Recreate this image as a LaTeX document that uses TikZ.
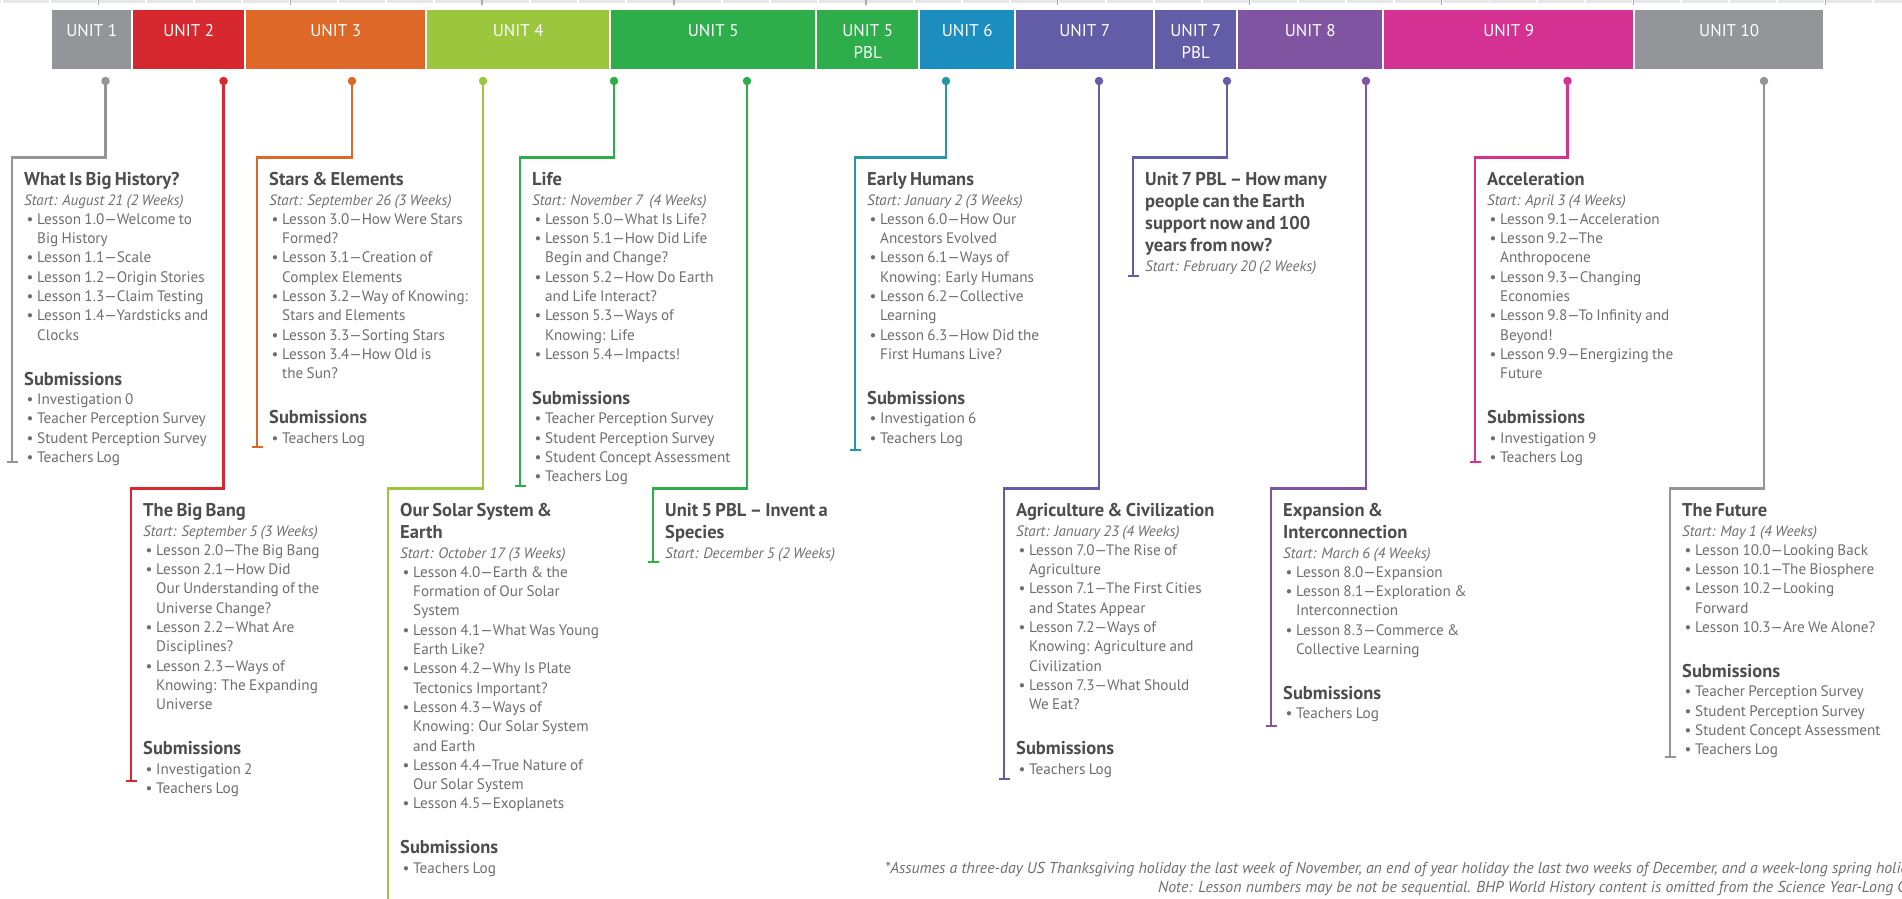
\documentclass[tikz,border=0pt]{standalone}
\usepackage{fontspec}
\setmainfont{PT Sans}
\usetikzlibrary{arrows.meta}

\definecolor{unitgray}{HTML}{939598}
\definecolor{unitred}{HTML}{D7282F}
\definecolor{unitorange}{HTML}{DD6828}
\definecolor{unitlime}{HTML}{9BC63D}
\definecolor{unitgreen}{HTML}{2DAE4B}
\definecolor{unitblue}{HTML}{1C8DBF}
\definecolor{unitteal}{HTML}{2396A8}
\definecolor{unitpurple}{HTML}{635DA8}
\definecolor{unitviolet}{HTML}{7F55A1}
\definecolor{unitmagenta}{HTML}{D43192}
\definecolor{headgray}{HTML}{4D4D4F}
\definecolor{bodygray}{HTML}{6D6E71}
\definecolor{rulegray}{HTML}{E6E7E8}
\definecolor{tickgray}{HTML}{A7A9AC}

\newcommand\nextln{\hfil\break}
\newcommand\unittitle[1]{{\fontsize{18.5}{22}\selectfont\bfseries\noindent\color{headgray}#1\par}}
\newcommand\startline[1]{{\fontsize{15}{19.5}\selectfont\itshape\noindent #1\par}}
\newcommand\bul[1]{{\fontsize{15.2}{19.3}\selectfont\hangindent=13pt\hangafter=1\noindent\makebox[13pt][l]{\hspace{2.5pt}\textbullet}#1\par}}
\newcommand\submissions{\vspace{25pt}{\fontsize{18.5}{20}\selectfont\bfseries\noindent\color{headgray}Submissions\par}}

\begin{document}
\begin{tikzpicture}[x=1pt, y=-1pt,
    unitbox/.style={anchor=north west, minimum height=59pt, inner sep=0pt, fill=#1},
    unitlab/.style={anchor=north, inner sep=0pt, text=white, align=center, font=\fontsize{17}{22}\selectfont},
    dot/.style={circle, fill=#1, inner sep=0pt, minimum size=8.5pt},
    conn/.style={draw=#1, line width=2.2pt, -{Bar[width=11pt]}},
    blk/.style={anchor=base west, text width=280pt, inner sep=0pt, text=bodygray},
    note/.style={anchor=base west, inner sep=0pt, text=bodygray, font=\fontsize{15.8}{17}\selectfont\itshape}]
    \useasboundingbox (0,0) rectangle (1902,898);
    \clip (0,0) rectangle (1902,898);

    % ruler along the top edge
    \foreach \m in {-1,...,39} \fill[rulegray] ({3.4+\m*47.97},0) rectangle ++(46,2.5);
    \foreach \n in {0,...,9} \draw[tickgray, line width=1.3pt] ({98.3+\n*191.9},0) -- ++(0,5);

    % unit bar
    \node[unitbox=unitgray, minimum width=79pt] (u1) at (52,10) {};
    \node[unitbox=unitred, minimum width=111pt] (u2) at (133,10) {};
    \node[unitbox=unitorange, minimum width=179pt] (u3) at (246,10) {};
    \node[unitbox=unitlime, minimum width=182pt] (u4) at (427,10) {};
    \node[unitbox=unitgreen, minimum width=204pt] (u5) at (611,10) {};
    \node[unitbox=unitgreen, minimum width=101pt] (u5p) at (817,10) {};
    \node[unitbox=unitblue, minimum width=94pt] (u6) at (920,10) {};
    \node[unitbox=unitpurple, minimum width=137pt] (u7) at (1016,10) {};
    \node[unitbox=unitpurple, minimum width=81pt] (u7p) at (1155,10) {};
    \node[unitbox=unitviolet, minimum width=144pt] (u8) at (1238,10) {};
    \node[unitbox=unitmagenta, minimum width=249pt] (u9) at (1384,10) {};
    \node[unitbox=unitgray, minimum width=188pt] (u10) at (1635,10) {};
    \node[unitlab] (l1) at ([yshift=-14pt]u1.north) {UNIT 1};
    \node[unitlab] (l2) at ([yshift=-14pt]u2.north) {UNIT 2};
    \node[unitlab] (l3) at ([yshift=-14pt]u3.north) {UNIT 3};
    \node[unitlab] (l4) at ([yshift=-14pt]u4.north) {UNIT 4};
    \node[unitlab] (l5) at ([yshift=-14pt]u5.north) {UNIT 5};
    \node[unitlab] (l5p) at ([yshift=-14pt]u5p.north) {UNIT 5\\PBL};
    \node[unitlab] (l6) at ([yshift=-14pt]u6.north) {UNIT 6};
    \node[unitlab] (l7) at ([yshift=-14pt]u7.north) {UNIT 7};
    \node[unitlab] (l7p) at ([yshift=-14pt]u7p.north) {UNIT 7\\PBL};
    \node[unitlab] (l8) at ([yshift=-14pt]u8.north) {UNIT 8};
    \node[unitlab] (l9) at ([yshift=-14pt]u9.north) {UNIT 9};
    \node[unitlab] (l10) at ([yshift=-14pt]u10.north) {UNIT 10};

    % start dots
    \node[dot=unitgray] (d1) at (105.5,81) {};
    \node[dot=unitred] (d2) at (223.5,81) {};
    \node[dot=unitorange] (d3) at (352,81) {};
    \node[dot=unitlime] (d4) at (483,81) {};
    \node[dot=unitgreen] (d5) at (614,81) {};
    \node[dot=unitgreen] (d5p) at (747,81) {};
    \node[dot=unitteal] (d6) at (946,81) {};
    \node[dot=unitpurple] (d7) at (1099,81) {};
    \node[dot=unitpurple] (d7p) at (1227,81) {};
    \node[dot=unitviolet] (d8) at (1366,81) {};
    \node[dot=unitmagenta] (d9) at (1567.5,81) {};
    \node[dot=unitgray] (d10) at (1764,81) {};

    % bends and ends of the leader lines
    \coordinate (k1) at (12,157.5);    \coordinate (e1) at (12,463);
    \coordinate (k2) at (131,488.5);   \coordinate (e2) at (131,782);
    \coordinate (k3) at (257,157.5);   \coordinate (e3) at (257,448);
    \coordinate (k4) at (388,488.5);   \coordinate (e4) at (388,912);
    \coordinate (k5) at (520,157.5);   \coordinate (e5) at (520,487);
    \coordinate (k5p) at (653,488.5);  \coordinate (e5p) at (653,563);
    \coordinate (k6) at (855,157.5);   \coordinate (e6) at (855,451);
    \coordinate (k7) at (1004,488.5);  \coordinate (e7) at (1004,780);
    \coordinate (k7p) at (1133,157.5); \coordinate (e7p) at (1133,277);
    \coordinate (k8) at (1271,488.5);  \coordinate (e8) at (1271,727);
    \coordinate (k9) at (1475,157.5);  \coordinate (e9) at (1475,463);
    \coordinate (k10) at (1670,488.5); \coordinate (e10) at (1670,758);

    \draw[conn=unitgray] (d1) |- (k1) -- (e1);
    \draw[conn=unitred] (d2) |- (k2) -- (e2);
    \draw[conn=unitorange] (d3) |- (k3) -- (e3);
    \draw[conn=unitlime] (d4) |- (k4) -- (e4);
    \draw[conn=unitgreen] (d5) |- (k5) -- (e5);
    \draw[conn=unitgreen] (d5p) |- (k5p) -- (e5p);
    \draw[conn=unitteal] (d6) |- (k6) -- (e6);
    \draw[conn=unitpurple] (d7) |- (k7) -- (e7);
    \draw[conn=unitpurple] (d7p) |- (k7p) -- (e7p);
    \draw[conn=unitviolet] (d8) |- (k8) -- (e8);
    \draw[conn=unitmagenta] (d9) |- (k9) -- (e9);
    \draw[conn=unitgray] (d10) |- (k10) -- (e10);

    % unit texts
    \node[blk] (t1) at (24,185.5) {\unittitle{What Is Big History?}
        \startline{Start: August 21 (2 Weeks)}
        \bul{Lesson 1.0—Welcome to\nextln Big History}
        \bul{Lesson 1.1—Scale}
        \bul{Lesson 1.2—Origin Stories}
        \bul{Lesson 1.3—Claim Testing}
        \bul{Lesson 1.4—Yardsticks and\nextln Clocks}
        \submissions
        \bul{Investigation 0}
        \bul{Teacher Perception Survey}
        \bul{Student Perception Survey}
        \bul{Teachers Log}};
    \node[blk] (t2) at (143,516.5) {\unittitle{The Big Bang}
        \startline{Start: September 5 (3 Weeks)}
        \bul{Lesson 2.0—The Big Bang}
        \bul{Lesson 2.1—How Did\nextln Our Understanding of the\nextln Universe Change?}
        \bul{Lesson 2.2—What Are\nextln Disciplines?}
        \bul{Lesson 2.3—Ways of\nextln Knowing: The Expanding\nextln Universe}
        \submissions
        \bul{Investigation 2}
        \bul{Teachers Log}};
    \node[blk] (t3) at (269,185.5) {\unittitle{Stars \& Elements}
        \startline{Start: September 26 (3 Weeks)}
        \bul{Lesson 3.0—How Were Stars\nextln Formed?}
        \bul{Lesson 3.1—Creation of\nextln Complex Elements}
        \bul{Lesson 3.2—Way of Knowing:\nextln Stars and Elements}
        \bul{Lesson 3.3—Sorting Stars}
        \bul{Lesson 3.4—How Old is\nextln the Sun?}
        \submissions
        \bul{Teachers Log}};
    \node[blk] (t4) at (400,516.5) {\unittitle{Our Solar System \&\nextln Earth}
        \startline{Start: October 17 (3 Weeks)}
        \bul{Lesson 4.0—Earth \& the\nextln Formation of Our Solar\nextln System}
        \bul{Lesson 4.1—What Was Young\nextln Earth Like?}
        \bul{Lesson 4.2—Why Is Plate\nextln Tectonics Important?}
        \bul{Lesson 4.3—Ways of\nextln Knowing: Our Solar System\nextln and Earth}
        \bul{Lesson 4.4—True Nature of\nextln Our Solar System}
        \bul{Lesson 4.5—Exoplanets}
        \submissions
        \bul{Teachers Log}};
    \node[blk] (t5) at (532,185.5) {\unittitle{Life}
        \startline{Start: November 7\ \ (4 Weeks)}
        \bul{Lesson 5.0—What Is Life?}
        \bul{Lesson 5.1—How Did Life\nextln Begin and Change?}
        \bul{Lesson 5.2—How Do Earth\nextln and Life Interact?}
        \bul{Lesson 5.3—Ways of\nextln Knowing: Life}
        \bul{Lesson 5.4—Impacts!}
        \submissions
        \bul{Teacher Perception Survey}
        \bul{Student Perception Survey}
        \bul{Student Concept Assessment}
        \bul{Teachers Log}};
    \node[blk] (t5p) at (665,516.5) {\unittitle{Unit 5 PBL – Invent a\nextln Species}
        \startline{Start: December 5 (2 Weeks)}};
    \node[blk] (t6) at (867,185.5) {\unittitle{Early Humans}
        \startline{Start: January 2 (3 Weeks)}
        \bul{Lesson 6.0—How Our\nextln Ancestors Evolved}
        \bul{Lesson 6.1—Ways of\nextln Knowing: Early Humans}
        \bul{Lesson 6.2—Collective\nextln Learning}
        \bul{Lesson 6.3—How Did the\nextln First Humans Live?}
        \submissions
        \bul{Investigation 6}
        \bul{Teachers Log}};
    \node[blk] (t7) at (1016,516.5) {\unittitle{Agriculture \& Civilization}
        \startline{Start: January 23 (4 Weeks)}
        \bul{Lesson 7.0—The Rise of\nextln Agriculture}
        \bul{Lesson 7.1—The First Cities\nextln and States Appear}
        \bul{Lesson 7.2—Ways of\nextln Knowing: Agriculture and\nextln Civilization}
        \bul{Lesson 7.3—What Should\nextln We Eat?}
        \submissions
        \bul{Teachers Log}};
    \node[blk] (t7p) at (1145,185.5) {\unittitle{Unit 7 PBL – How many\nextln people can the Earth\nextln support now and 100\nextln years from now?}
        \startline{Start: February 20 (2 Weeks)}};
    \node[blk] (t8) at (1283,516.5) {\unittitle{Expansion \&\nextln Interconnection}
        \startline{Start: March 6 (4 Weeks)}
        \bul{Lesson 8.0—Expansion}
        \bul{Lesson 8.1—Exploration \&\nextln Interconnection}
        \bul{Lesson 8.3—Commerce \&\nextln Collective Learning}
        \submissions
        \bul{Teachers Log}};
    \node[blk] (t9) at (1487,185.5) {\unittitle{Acceleration}
        \startline{Start: April 3 (4 Weeks)}
        \bul{Lesson 9.1—Acceleration}
        \bul{Lesson 9.2—The\nextln Anthropocene}
        \bul{Lesson 9.3—Changing\nextln Economies}
        \bul{Lesson 9.8—To Infinity and\nextln Beyond!}
        \bul{Lesson 9.9—Energizing the\nextln Future}
        \submissions
        \bul{Investigation 9}
        \bul{Teachers Log}};
    \node[blk] (t10) at (1682,516.5) {\unittitle{The Future}
        \startline{Start: May 1 (4 Weeks)}
        \bul{Lesson 10.0—Looking Back}
        \bul{Lesson 10.1—The Biosphere}
        \bul{Lesson 10.2—Looking\nextln Forward}
        \bul{Lesson 10.3—Are We Alone?}
        \submissions
        \bul{Teacher Perception Survey}
        \bul{Student Perception Survey}
        \bul{Student Concept Assessment}
        \bul{Teachers Log}};

    % footnotes, running off the right edge
    \node[note] (n1) at (885,873.5) {*Assumes a three-day US Thanksgiving holiday the last week of November, an end of year holiday the last two weeks of December, and a week-long spring holiday};
    \node[note] (n2) at (1158,892) {Note: Lesson numbers may be not be sequential. BHP World History content is omitted from the Science Year-Long Course};
\end{tikzpicture}
\end{document}
